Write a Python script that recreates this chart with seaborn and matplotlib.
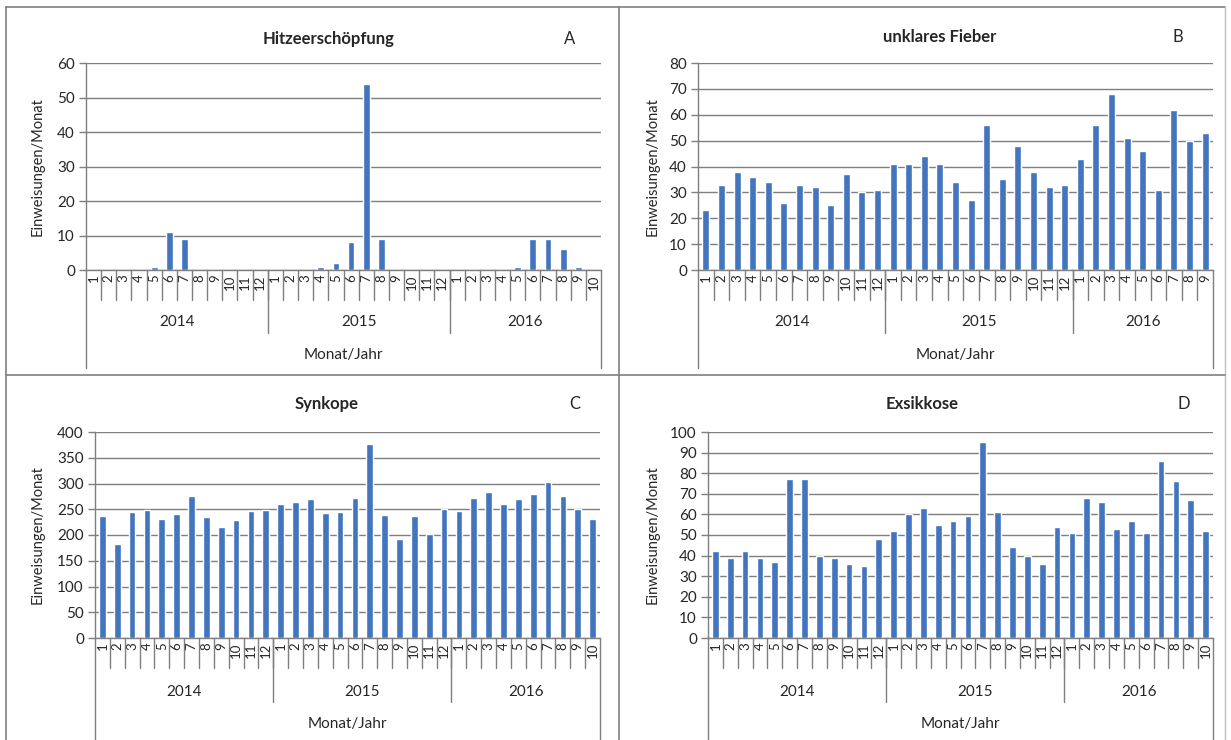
import numpy as np
import pandas as pd
import matplotlib
matplotlib.use("Agg")
import matplotlib.pyplot as plt
import seaborn as sns

# monthly admissions
hitze = [0, 0, 0, 0, 1, 11, 9, 0, 0, 0, 0, 0,
         0, 0, 0, 1, 2, 8, 54, 9, 0, 0, 0, 0,
         0, 0, 0, 0, 1, 9, 9, 6, 1, 0]
fieber = [23, 33, 38, 36, 34, 26, 33, 32, 25, 37, 30, 31,
          41, 41, 44, 41, 34, 27, 56, 35, 48, 38, 32, 33,
          43, 56, 68, 51, 46, 31, 62, 50, 53]
synkope = [236, 182, 244, 249, 231, 241, 276, 234, 216, 229, 246, 249,
           261, 264, 269, 242, 244, 271, 377, 239, 192, 236, 201, 250,
           247, 271, 284, 261, 269, 279, 303, 276, 250, 232]
exsikkose = [42, 39, 42, 39, 37, 77, 77, 40, 39, 36, 35, 48,
             52, 60, 63, 55, 57, 59, 95, 61, 44, 40, 36, 54,
             51, 68, 66, 53, 57, 51, 86, 76, 67, 52]

years = ["2014", "2015", "2016"]
months_34 = list(range(1, 13)) + list(range(1, 13)) + list(range(1, 11))
months_33 = list(range(1, 13)) + list(range(1, 13)) + list(range(1, 10))

titles = ["Hitzeerschöpfung", "unklares Fieber", "Synkope", "Exsikkose"]
letters = ["A", "B", "C", "D"]
y_max = [60, 80, 400, 100]
y_step = [10, 10, 50, 10]

BAR = "#4275BE"
GRID = "#7f7f7f"
W, H = 1231, 740

sns.set_theme(style="white")
plt.rcParams["font.family"] = ["Lato", "DejaVu Sans"]

fig = plt.figure(figsize=(W / 100, H / 100), dpi=100)

# pixel layout of each panel: axes box, label spots, separator depths
panels = [
    dict(box=(86, 601, 63, 270), ylab=45, title=(329, 39), letter=(570, 39),
         msep=300, ysep=333, yr=322, xlab=355, outer=368),
    dict(box=(698, 1213, 63, 270), ylab=660, title=(940, 37), letter=(1178, 37),
         msep=300, ysep=333, yr=322, xlab=355, outer=368),
    dict(box=(95, 600, 432, 638), ylab=45, title=(327, 404), letter=(575, 404),
         msep=668, ysep=702, yr=692, xlab=724, outer=740),
    dict(box=(708, 1213, 432, 638), ylab=660, title=(922, 404), letter=(1184, 404),
         msep=668, ysep=702, yr=692, xlab=724, outer=740),
]
series = [hitze, fieber, synkope, exsikkose]
month_sets = [months_34, months_33, months_34, months_34]


def draw_panel(p, vals, months, title, letter, ymax, ystep):
    left, right, top, bottom = p["box"]
    ax = fig.add_axes([left / W, 1 - bottom / H, (right - left) / W, (bottom - top) / H])
    n = len(vals)
    df = pd.DataFrame({"pos": np.arange(n), "value": vals})
    sns.barplot(data=df, x="pos", y="value", ax=ax, color=BAR, width=0.45,
                saturation=1, errorbar=None)
    ax.set_xlim(-0.5, n - 0.5)
    ax.set_ylim(0, ymax)
    ax.set_yticks(np.arange(0, ymax + 1, ystep))
    ax.set_xticks(np.arange(n))
    ax.set_xticklabels([str(m) for m in months], rotation=90, fontsize=9.5)
    ax.tick_params(axis="x", length=0, pad=3)
    ax.tick_params(axis="y", length=5, color=GRID, width=1, labelsize=11, pad=3, left=True)
    ax.yaxis.grid(True, color=GRID, lw=1)
    ax.set_axisbelow(True)
    for s in ["top", "right"]:
        ax.spines[s].set_visible(False)
    for s in ["left", "bottom"]:
        ax.spines[s].set_color(GRID)
        ax.spines[s].set_linewidth(1)
    ax.set_xlabel("")
    ax.set_ylabel("Einweisungen/Monat", fontsize=10.5)
    ax.yaxis.set_label_coords((p["ylab"] - left) / (right - left), 0.5)

    # hierarchical category axis below the plot
    hpx = bottom - top
    fy = lambda py: (bottom - py) / hpx
    tr = ax.get_xaxis_transform()
    kw = dict(transform=tr, clip_on=False, color=GRID, lw=1)
    for i in range(n - 1):
        ax.plot([i + 0.5, i + 0.5], [0, fy(p["msep"])], **kw)
    starts = [0, 12, 24, n]
    for b in starts[1:-1]:
        ax.plot([b - 0.5, b - 0.5], [0, fy(p["ysep"])], **kw)
    for xe in (-0.5, n - 0.5):
        ax.plot([xe, xe], [0, fy(p["outer"])], **kw)
    for k, yr in enumerate(years):
        xc = (starts[k] + starts[k + 1] - 1) / 2
        ax.text(xc, fy(p["yr"]), yr, transform=tr, ha="center", va="center", fontsize=11)
    ax.text(0.5, fy(p["xlab"]), "Monat/Jahr", transform=ax.transAxes,
            ha="center", va="center", fontsize=11)

    fig.text(p["title"][0] / W, 1 - p["title"][1] / H, title, ha="center", va="center",
             fontsize=12, fontweight="bold")
    fig.text(p["letter"][0] / W, 1 - p["letter"][1] / H, letter, ha="center", va="center",
             fontsize=12)


for p, vals, months, t, l, ym, ys in zip(panels, series, month_sets, titles,
                                         letters, y_max, y_step):
    draw_panel(p, vals, months, t, l, ym, ys)

# panel frame lines
frame = dict(color="#7f7f7f", lw=1.2, transform=fig.transFigure)
fig.add_artist(plt.Line2D([6 / W, 6 / W], [0, 1 - 7 / H], **frame))
fig.add_artist(plt.Line2D([6 / W, 1225 / W], [1 - 7 / H, 1 - 7 / H], **frame))
fig.add_artist(plt.Line2D([1225 / W, 1225 / W], [0, 1 - 7 / H], color="#bfbfbf", lw=1,
                          transform=fig.transFigure))
fig.add_artist(plt.Line2D([619 / W, 619 / W], [0, 1 - 7 / H], **frame))
fig.add_artist(plt.Line2D([6 / W, 1225 / W], [1 - 375 / H, 1 - 375 / H], **frame))

fig.savefig("out.png", dpi=100, facecolor="white")
